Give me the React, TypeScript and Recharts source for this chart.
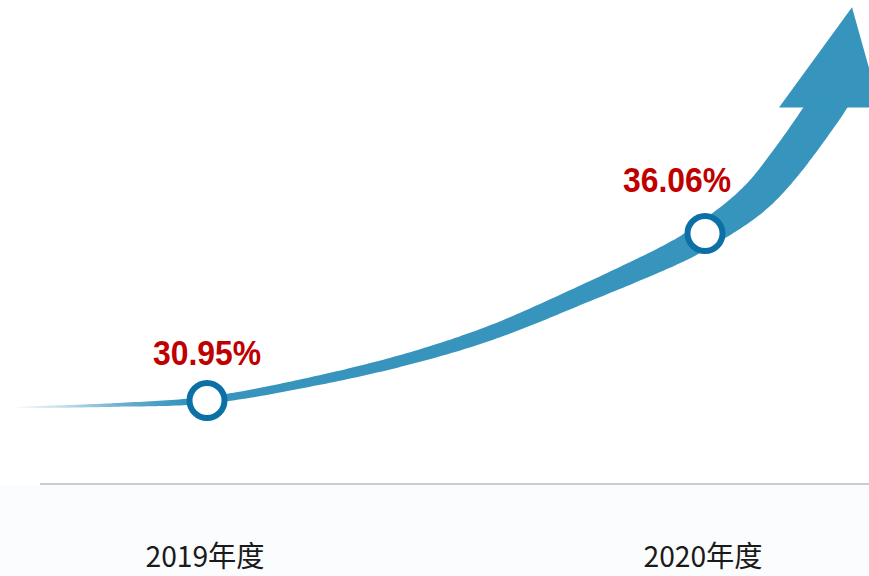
import { LineChart, Line, XAxis, YAxis } from 'recharts';

// growth rate by fiscal year
const years = ['2019年度', '2020年度'];
const rates = [30.95, 36.06];
const rateLabels = ['30.95%', '36.06%'];

const data = years.map((year, i) => ({ year, rate: rates[i], label: rateLabels[i] }));

const ARROW = '#3795bd';
const RING = '#0b70a6';
const RED = '#c00000';

// swoosh spine, relative to the first point, scaled by the gap to the second
const REF_DX = 498;
const REF_DY = -167;
const spine: [number, number][] = [
  [-197, 7], [-97, 4.5], [0, -0.5], [93, -16.5], [193, -39.5], [283, -67.5],
  [373, -105], [460, -144], [497, -165], [543, -198], [576, -234], [618.5, -293], [640, -330],
];
const spineWidth = [1.2, 3.5, 7, 9, 11.5, 14.5, 18, 23, 26, 31.5, 35, 37, 37];
const head: [number, number][] = [[572, -293], [645, -393], [673, -293]];

function catmull(pts: [number, number][], i: number, t: number): [number, number] {
  const p0 = pts[Math.max(i - 1, 0)];
  const p1 = pts[i];
  const p2 = pts[i + 1];
  const p3 = pts[Math.min(i + 2, pts.length - 1)];
  const t2 = t * t;
  const t3 = t2 * t;
  const f = (a: number, b: number, c: number, d: number) =>
    0.5 * (2 * b + (-a + c) * t + (2 * a - 5 * b + 4 * c - d) * t2 + (-a + 3 * b - 3 * c + d) * t3);
  return [f(p0[0], p1[0], p2[0], p3[0]), f(p0[1], p1[1], p2[1], p3[1])];
}

const SwooshDot = (props: any) => {
  const { index, points } = props;
  if (index !== 0 || !points || points.length < 2) return <g key={`sw-${index}`} />;
  const a = points[0];
  const b = points[1];
  const sx = (b.x - a.x) / REF_DX;
  const sy = (b.y - a.y) / REF_DY;
  const map = (p: [number, number]): [number, number] => [a.x + p[0] * sx, a.y + p[1] * sy];
  const pts = spine.map(map);

  const samples: { p: [number, number]; w: number }[] = [];
  const steps = 24;
  for (let i = 0; i < pts.length - 1; i++) {
    for (let s = 0; s < steps; s++) {
      const t = s / steps;
      samples.push({ p: catmull(pts, i, t), w: spineWidth[i] + (spineWidth[i + 1] - spineWidth[i]) * t });
    }
  }
  samples.push({ p: pts[pts.length - 1], w: spineWidth[spineWidth.length - 1] });

  const upper: string[] = [];
  const lower: string[] = [];
  samples.forEach((s, k) => {
    const prev = samples[Math.max(k - 1, 0)].p;
    const next = samples[Math.min(k + 1, samples.length - 1)].p;
    const tx = next[0] - prev[0];
    const ty = next[1] - prev[1];
    const len = Math.hypot(tx, ty) || 1;
    const nx = ty / len;
    const ny = -tx / len;
    const h = (s.w * sx) / 2;
    upper.push(`${(s.p[0] + nx * h).toFixed(1)},${(s.p[1] + ny * h).toFixed(1)}`);
    lower.push(`${(s.p[0] - nx * h).toFixed(1)},${(s.p[1] - ny * h).toFixed(1)}`);
  });
  const shaft = `M${upper.join(' L')} L${lower.reverse().join(' L')} Z`;
  const hd = head.map(map);
  const headPath = `M${hd.map((p) => `${p[0]},${p[1]}`).join(' L')} Z`;

  const gx1 = a.x - 197 * sx;
  const gx2 = a.x - 25 * sx;
  return (
    <g key="swoosh">
      <defs>
        <linearGradient id="tailFade" gradientUnits="userSpaceOnUse" x1={gx1} y1={0} x2={gx2} y2={0}>
          <stop offset="0" stopColor={ARROW} stopOpacity={0} />
          <stop offset="0.3" stopColor={ARROW} stopOpacity={0.3} />
          <stop offset="0.65" stopColor={ARROW} stopOpacity={0.75} />
          <stop offset="1" stopColor={ARROW} stopOpacity={1} />
        </linearGradient>
      </defs>
      <path d={shaft} fill="url(#tailFade)" />
      <path d={headPath} fill={ARROW} />
    </g>
  );
};

const RingDot = (props: any) => {
  const { cx, cy, index } = props;
  return <circle key={`ring-${index}`} cx={cx} cy={cy} r={17.5} fill="#fff" stroke={RING} strokeWidth={6} />;
};

const RateLabel = (props: any) => {
  const { x, y, index } = props;
  const shift = index === data.length - 1 ? -28 : 0;
  const lift = index === data.length - 1 ? 41 : 36;
  return (
    <text
      x={x + shift}
      y={y - lift}
      textAnchor="middle"
      fill={RED}
      fontSize={35}
      fontWeight="bold"
      fontFamily="'Liberation Sans', Arial, sans-serif"
      textLength={108}
      lengthAdjust="spacingAndGlyphs"
    >
      {data[index].label}
    </text>
  );
};

const YearTick = (props: any) => {
  const { x, y, payload } = props;
  return (
    <text
      x={x - 2}
      y={y + 83}
      textAnchor="middle"
      fill="#1a1a1a"
      fontSize={29}
      fontFamily="'Noto Sans CJK SC', 'Noto Sans', sans-serif"
      textLength={119}
      lengthAdjust="spacingAndGlyphs"
    >
      {payload.value}
    </text>
  );
};

export default function App() {
  return (
    <div style={{ position: 'absolute', left: 0, top: 0, width: 869, height: 576, background: '#fff' }}>
      <div style={{ position: 'absolute', left: 0, top: 485, width: 869, height: 91, background: '#fbfcfd' }} />
      <LineChart width={869} height={576} data={data} margin={{ top: 0, right: 0, left: 40, bottom: 62 }}>
        <XAxis
          dataKey="year"
          height={30}
          padding={{ left: 167, right: 164 }}
          axisLine={{ stroke: '#bdbdbd', strokeWidth: 1.5 }}
          tickLine={false}
          tickSize={0}
          tickMargin={0}
          tick={<YearTick />}
          interval={0}
        />
        <YAxis type="number" domain={[28.4, 43.2]} hide />
        <Line
          dataKey="rate"
          stroke="none"
          dot={<SwooshDot />}
          activeDot={false}
          isAnimationActive={false}
        />
        <Line
          dataKey="rate"
          stroke="none"
          dot={<RingDot />}
          activeDot={false}
          label={<RateLabel />}
          isAnimationActive={false}
        />
      </LineChart>
    </div>
  );
}
